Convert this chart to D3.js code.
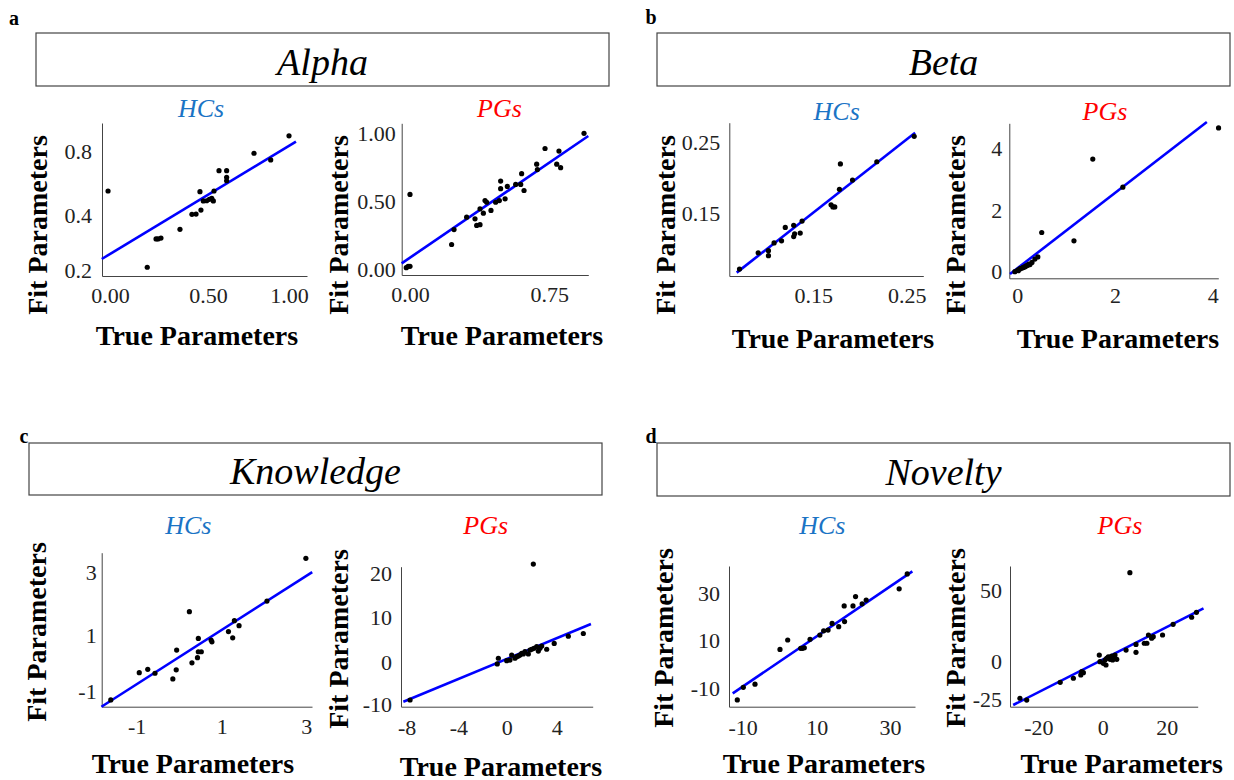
<!DOCTYPE html>
<html>
<head>
<meta charset="utf-8">
<script src="https://d3js.org/d3.v7.min.js"></script>
<style>
  body { margin: 0; background: #fff; }
  text { font-family: "Liberation Serif", "Times New Roman", serif; }
</style>
</head>
<body>
<div id="chart"></div>
<script>
// ---- data: [true, fit] pairs ----
const alphaHC = [[-0.01,0.55],[0.19,0.21],[0.235,0.313],[0.245,0.313],[0.26,0.316],[0.357,0.348],[0.418,0.404],[0.439,0.406],
  [0.459,0.546],[0.464,0.431],[0.476,0.488],[0.493,0.489],[0.508,0.498],[0.533,0.488],[0.523,0.504],[0.537,0.55],
  [0.568,0.677],[0.615,0.677],[0.615,0.636],[0.615,0.614],[0.784,0.786],[0.887,0.744],[1.0,0.895]];
const alphaHC_fit = [[-0.042,0.24],[1.043,0.858]];

const alphaPG = [[-0.02,0.01],[0.0,0.02],[-0.01,0.02],[0.0,0.553],[0.224,0.182],[0.237,0.293],[0.305,0.385],[0.35,0.373],
  [0.359,0.324],[0.377,0.329],[0.377,0.447],[0.395,0.415],[0.404,0.508],[0.413,0.496],[0.436,0.435],[0.461,0.496],
  [0.481,0.508],[0.488,0.595],[0.488,0.651],[0.512,0.521],[0.524,0.612],[0.569,0.626],[0.596,0.626],[0.601,0.705],
  [0.614,0.582],[0.682,0.774],[0.686,0.735],[0.727,0.889],[0.79,0.774],[0.802,0.87],[0.811,0.749],[0.937,1.0]];
const alphaPG_fit = [[-0.045,0.042],[0.96,0.98]];

const betaHC = [[0.071,0.071],[0.091,0.094],[0.102,0.097],[0.102,0.09],[0.108,0.108],[0.116,0.111],[0.12,0.13],[0.129,0.133],
  [0.129,0.117],[0.13,0.121],[0.136,0.122],[0.138,0.139],[0.169,0.162],[0.171,0.159],[0.173,0.159],[0.178,0.184],
  [0.179,0.22],[0.192,0.197],[0.218,0.223],[0.258,0.259]];
const betaHC_fit = [[0.068,0.066],[0.259,0.264]];

const betaPG = [[-0.05,0.0],[0.01,0.05],[0.02,0.03],[0.05,0.09],[0.07,0.1],[0.1,0.12],[0.12,0.14],[0.14,0.15],[0.16,0.16],
  [0.18,0.19],[0.2,0.2],[0.22,0.22],[0.24,0.25],[0.26,0.23],[0.3,0.3],[0.36,0.41],[0.42,0.48],[0.5,1.27],[1.16,1.0],
  [1.545,3.65],[2.16,2.74],[4.12,4.66]];
const betaPG_fit = [[-0.15,-0.075],[3.88,4.85]];

const knowHC = [[-1.61,-1.29],[-0.94,-0.33],[-0.74,-0.21],[-0.57,-0.35],[-0.15,-0.55],[-0.07,-0.23],[-0.06,0.47],[0.24,1.75],
  [0.30,0.02],[0.43,0.20],[0.45,0.41],[0.45,0.88],[0.52,0.41],[0.75,0.82],[0.77,0.76],[1.16,1.11],[1.26,0.9],[1.30,1.46],
  [1.41,1.30],[2.07,2.09],[2.99,3.46]];
const knowHC_fit = [[-1.83,-1.53],[3.14,3.02]];

const knowPG = [[-7.74,-9.04],[2.13,22.1],[-0.78,-0.4],[-0.69,0.9],[0,0.36],[0.26,0.5],[0.4,1.6],[0.66,0.9],[0.8,1.25],
  [0.93,1.4],[1.06,1.6],[1.2,2.0],[1.33,1.85],[1.46,2.36],[1.73,1.85],[1.86,2.73],[2.0,2.9],[2.18,3.1],[2.4,3.47],
  [2.53,2.5],[2.66,3.1],[2.8,3.6],[3.2,2.9],[3.8,4.2],[4.93,5.8],[6.13,6.4]];
const knowPG_fit = [[-8.26,-9.45],[6.74,8.5]];

const novHC = [[-11.46,-14.8],[-9.84,-9.6],[-6.68,-8.3],[0.08,6.1],[2.16,10],[5.68,6.56],[6.2,6.56],[6.65,6.8],[8.2,10.3],
  [10.86,12.1],[11.9,13.95],[13.1,14.25],[14.2,17.1],[16.0,15.7],[17.5,24.6],[17.6,17.9],[19.9,24.6],[20.6,28.6],
  [22.4,25.5],[23.5,27.1],[32.5,31.9],[34.7,38.3]];
const novHC_fit = [[-12.7,-12.1],[36.1,39.4]];

const novPG = [[-25.7,-24.3],[-23.6,-25.5],[-13.2,-13.7],[-9.1,-11.0],[-6.8,-8.8],[-6.5,-6.6],[-6.0,-7.3],[-1.06,4.7],
  [-0.84,0],[0.2,-1.1],[0.72,1.2],[1.03,-2.2],[1.25,2.4],[1.75,3.5],[2.3,1.7],[2.8,4.0],[3.3,3.1],[3.84,4.7],[4.4,1.7],
  [3.1,1.2],[7.3,8.2],[8.5,62.7],[10.4,12.2],[10.4,6.6],[13.0,13.0],[13.8,13.0],[14.3,18.8],[15.3,16.5],[15.8,17.6],
  [18.7,18.8],[22.0,26.3],[27.8,31.3],[29.3,34.8]];
const novPG_fit = [[-27.8,-28.8],[31.5,37.6]];

// ticks and their labels
const alphaHC_xTicks = [0, 0.5, 1],   alphaHC_xLabels = ["0.00","0.50","1.00"];
const alphaHC_yTicks = [0.2, 0.4, 0.8], alphaHC_yLabels = ["0.2","0.4","0.8"];
const alphaPG_xTicks = [0, 0.75],     alphaPG_xLabels = ["0.00","0.75"];
const alphaPG_yTicks = [0, 0.5, 1],   alphaPG_yLabels = ["0.00","0.50","1.00"];
const betaHC_xTicks = [0.15, 0.25],   betaHC_xLabels = ["0.15","0.25"];
const betaHC_yTicks = [0.15, 0.25],   betaHC_yLabels = ["0.15","0.25"];
const betaPG_xTicks = [0, 2, 4],      betaPG_xLabels = ["0","2","4"];
const betaPG_yTicks = [0, 2, 4],      betaPG_yLabels = ["0","2","4"];
const knowHC_xTicks = [-1, 1, 3],     knowHC_xLabels = ["-1","1","3"];
const knowHC_yTicks = [-1, 1, 3],     knowHC_yLabels = ["-1","1","3"];
const knowPG_xTicks = [-8, -4, 0, 4], knowPG_xLabels = ["-8","-4","0","4"];
const knowPG_yTicks = [-10, 0, 10, 20], knowPG_yLabels = ["-10","0","10","20"];
const novHC_xTicks = [-10, 10, 30],   novHC_xLabels = ["-10","10","30"];
const novHC_yTicks = [-10, 10, 30],   novHC_yLabels = ["-10","10","30"];
const novPG_xTicks = [-20, 0, 20],    novPG_xLabels = ["-20","0","20"];
const novPG_yTicks = [-25, 0, 50],    novPG_yLabels = ["-25","0","50"];

const sectionLetters = ["a","b","c","d"];
const sectionTitles = ["Alpha","Beta","Knowledge","Novelty"];
const groupNames = ["HCs","PGs"];

const svg = d3.select("#chart").append("svg")
  .attr("width", 1234).attr("height", 780)
  .style("background", "#fff");

// section headers
const sectionBoxes = [[36,33,609,86],[657,33,1230,86],[29,443,602,495],[657,443,1230,496]];
const letterPos = [[14,25],[651,24],[24,443],[651,443]];
sectionTitles.forEach((t, i) => {
  const b = sectionBoxes[i];
  svg.append("text").attr("x", letterPos[i][0]).attr("y", letterPos[i][1])
    .attr("text-anchor","middle").attr("font-weight","bold").attr("font-size",20).text(sectionLetters[i]);
  svg.append("rect").attr("x", b[0]).attr("y", b[1]).attr("width", b[2]-b[0]).attr("height", b[3]-b[1])
    .attr("fill","none").attr("stroke","#444").attr("stroke-width",1.2);
  svg.append("text").attr("x", (b[0]+b[2])/2).attr("y", b[3]-11)
    .attr("text-anchor","middle").attr("font-style","italic").attr("font-size",38).text(t);
});

// polylinear scale: ticks sit at the measured pixel spots, ends extrapolated
function tickScale(ticks, px, lo, hi) {
  const s = d3.scaleLinear().domain(ticks).range(px);
  return d3.scaleLinear().domain([s.invert(lo), ...ticks, s.invert(hi)]).range([lo, ...px, hi]);
}

const panels = [
  {pts: alphaHC, fit: alphaHC_fit, xt: alphaHC_xTicks, xl: alphaHC_xLabels, yt: alphaHC_yTicks, yl: alphaHC_yLabels, g: 0,
   box:[102,123,307,276], xPx:[110,208,289], yPx:[270,215,151], sub:[201,108], fitL:[37,225], truL:[197,335], pad:10, xpad:11},
  {pts: alphaPG, fit: alphaPG_fit, xt: alphaPG_xTicks, xl: alphaPG_xLabels, yt: alphaPG_yTicks, yl: alphaPG_yLabels, g: 1,
   box:[401.7,123.3,588.3,275], xPx:[410,549.3], yPx:[269,201.7,133.3], sub:[499.5,108], fitL:[338,225], truL:[502,335], pad:6, xpad:11},
  {pts: betaHC, fit: betaHC_fit, xt: betaHC_xTicks, xl: betaHC_xLabels, yt: betaHC_yTicks, yl: betaHC_yLabels, g: 0,
   box:[729.3,122.7,923.3,276], xPx:[813.3,906.7], yPx:[213.3,142.7], sub:[836.7,111], fitL:[665,225], truL:[833,338], pad:9, xpad:11},
  {pts: betaPG, fit: betaPG_fit, xt: betaPG_xTicks, xl: betaPG_xLabels, yt: betaPG_yTicks, yl: betaPG_yLabels, g: 1,
   box:[1009.3,123.3,1218.3,278.3], xPx:[1017.3,1115,1212.7], yPx:[271.7,210,148.3], sub:[1105,111], fitL:[955,225], truL:[1118,338], pad:7, xpad:9},
  {pts: knowHC, fit: knowHC_fit, xt: knowHC_xTicks, xl: knowHC_xLabels, yt: knowHC_yTicks, yl: knowHC_yLabels, g: 0,
   box:[101.7,552.7,312,706.7], xPx:[136.7,221.7,306.3], yPx:[691.7,635,572.7], sub:[188.3,525], fitL:[36.7,632], truL:[193,763], pad:5, xpad:12},
  {pts: knowPG, fit: knowPG_fit, xt: knowPG_xTicks, xl: knowPG_xLabels, yt: knowPG_yTicks, yl: knowPG_yLabels, g: 1,
   box:[401,566.7,592.7,706.7], xPx:[406.7,458.3,506.7,556.7], yPx:[704,662.3,617.3,573.3], sub:[485.7,525], fitL:[338.3,639], truL:[501,766], pad:9, xpad:13},
  {pts: novHC, fit: novHC_fit, xt: novHC_xTicks, xl: novHC_xLabels, yt: novHC_yTicks, yl: novHC_yLabels, g: 0,
   box:[729,566,915,706.7], xPx:[742.7,816.7,890], yPx:[688.3,640,593.3], sub:[822.3,525], fitL:[663.3,638], truL:[824,763], pad:9, xpad:13},
  {pts: novPG, fit: novPG_fit, xt: novPG_xTicks, xl: novPG_xLabels, yt: novPG_yTicks, yl: novPG_yLabels, g: 1,
   box:[1010,566,1197.7,706.7], xPx:[1038.3,1102.7,1166.7], yPx:[699.3,661.7,590.7], sub:[1120,525], fitL:[955,638], truL:[1121.7,763], pad:8, xpad:13}
];

const groupColor = ["#1b74c5", "#ff0000"];

panels.forEach(p => {
  const [l, t, r, b] = p.box;
  const x = tickScale(p.xt, p.xPx, l, r);
  const y = tickScale(p.yt, p.yPx, b, t);

  const xa = svg.append("g").attr("transform", `translate(0,${b})`)
    .call(d3.axisBottom(x).tickValues(p.xt).tickFormat((d, i) => p.xl[i])
      .tickSize(0).tickSizeOuter(0).tickPadding(p.xpad));
  const ya = svg.append("g").attr("transform", `translate(${l},0)`)
    .call(d3.axisLeft(y).tickValues(p.yt).tickFormat((d, i) => p.yl[i])
      .tickSize(0).tickSizeOuter(0).tickPadding(p.pad));
  [xa, ya].forEach(a => {
    a.attr("font-family", null).attr("font-size", null);
    a.select(".domain").attr("stroke", "#444").attr("stroke-width", 1);
    a.selectAll("text").attr("font-size", 22).attr("fill", "#222");
  });

  svg.append("line")
    .attr("x1", x(p.fit[0][0])).attr("y1", y(p.fit[0][1]))
    .attr("x2", x(p.fit[1][0])).attr("y2", y(p.fit[1][1]))
    .attr("stroke", "#0000ff").attr("stroke-width", 2.6);

  svg.append("g").selectAll("circle").data(p.pts).join("circle")
    .attr("cx", d => x(d[0])).attr("cy", d => y(d[1])).attr("r", 2.6)
    .attr("fill", "#000");

  svg.append("text").attr("x", p.sub[0]).attr("y", p.sub[1])
    .attr("text-anchor", "middle").attr("dominant-baseline", "central")
    .attr("font-style", "italic").attr("font-size", 26)
    .attr("fill", groupColor[p.g]).text(groupNames[p.g]);

  svg.append("text").attr("transform", `translate(${p.fitL[0]},${p.fitL[1]}) rotate(-90)`)
    .attr("text-anchor", "middle").attr("dominant-baseline", "central")
    .attr("font-weight", "bold").attr("font-size", 28).text("Fit Parameters");

  svg.append("text").attr("x", p.truL[0]).attr("y", p.truL[1])
    .attr("text-anchor", "middle").attr("dominant-baseline", "central")
    .attr("font-weight", "bold").attr("font-size", 28).text("True Parameters");
});
</script>
</body>
</html>
